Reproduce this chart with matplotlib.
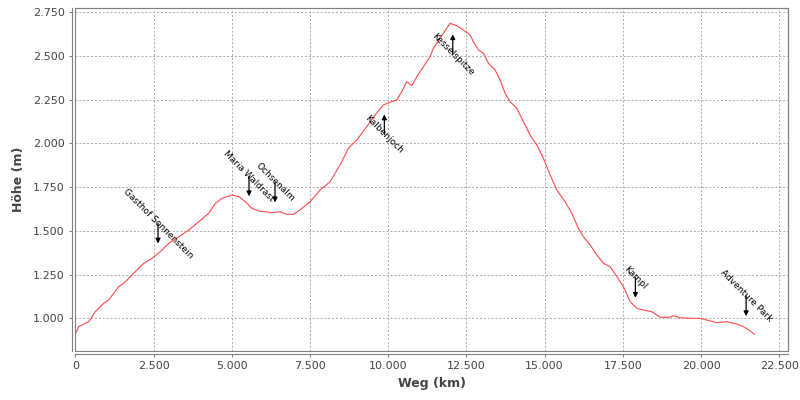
import matplotlib
matplotlib.use("Agg")
import matplotlib.pyplot as plt
from matplotlib.ticker import FuncFormatter, MultipleLocator
from matplotlib.patches import Rectangle
from matplotlib.transforms import offset_copy

# distance along route (m) and elevation (m)
dist = [0, 109, 320, 428, 640, 908, 1068, 1228, 1388, 1547, 1758, 2027, 2187, 2452, 2718,
        2986, 3306, 3625, 3945, 4265, 4476, 4690, 5010, 5224, 5435, 5649, 5863, 6074, 6289,
        6544, 6759, 6969, 7184, 7503, 7823, 8143, 8462, 8728, 8996, 9316, 9582, 9847, 10061,
        10275, 10435, 10595, 10755, 10915, 11126, 11340, 11445, 11659, 11873, 11979, 12193,
        12404, 12618, 12724, 12884, 13044, 13204, 13418, 13578, 13738, 13897, 14112, 14323,
        14537, 14751, 14962, 15176, 15390, 15655, 15870, 16081, 16241, 16455, 16670, 16880,
        17095, 17309, 17520, 17734, 17948, 18159, 18428, 18693, 19013, 19119, 19332, 19758,
        19971, 20186, 20505, 20825, 21145, 21356, 21570, 21698]
elev = [910, 952, 971, 981, 1038, 1086, 1105, 1143, 1181, 1200, 1238, 1286, 1314, 1343, 1381,
        1428, 1466, 1504, 1552, 1600, 1657, 1686, 1704, 1695, 1666, 1628, 1613, 1609, 1603,
        1609, 1594, 1594, 1619, 1666, 1733, 1780, 1876, 1971, 2019, 2095, 2161, 2219, 2234,
        2247, 2295, 2352, 2329, 2380, 2437, 2495, 2542, 2600, 2657, 2685, 2672,
        2647, 2618, 2580, 2533, 2514, 2457, 2419, 2361, 2285, 2237, 2200, 2123,
        2047, 1990, 1914, 1819, 1733, 1666, 1600, 1514, 1466, 1419, 1362, 1314,
        1295, 1238, 1181, 1095, 1057, 1047, 1038, 1006, 1006, 1015, 1003, 1000,
        1000, 990, 975, 981, 967, 952, 929, 909]

# points of interest
poi_names = ["Gasthof Sonnenstein", "Maria Waldrast", "Ochsenalm", "Kalbenjoch",
             "Kesselspitze", "Kampl", "Adventure Park"]
poi_dist = [2644, 5553, 6384, 9879, 12065, 17903, 21442]
poi_elev = [1370, 1640, 1605, 2222, 2680, 1060, 955]
poi_side = [1, 1, 1, -1, -1, 1, 1]   # 1: label above (arrow down), -1: below (arrow up)

x_label = "Weg (km)"
y_label = "Höhe (m)"

fig = plt.figure(figsize=(8, 4), dpi=100)
fig.patch.set_facecolor("white")
ax = fig.add_axes([75.3 / 800, 1 - 350.7 / 400, (788.3 - 75.3) / 800, (350.7 - 8.3) / 400])

ax.plot(dist, elev, color="#ff4a4a", lw=0.8, zorder=3)

ax.set_xlim(0, 22790)
ax.set_ylim(815, 2771)
ax.xaxis.set_major_locator(MultipleLocator(2500))
ax.yaxis.set_major_locator(MultipleLocator(250))
fmt = FuncFormatter(lambda v, p: f"{v:,.0f}".replace(",", "."))
ax.xaxis.set_major_formatter(fmt)
ax.yaxis.set_major_formatter(fmt)

ax.grid(True, color="#a8a8a8", lw=0.7, ls=(0, (2, 2)))
ax.set_axisbelow(True)

gray = "#808080"
for s in ["top", "right"]:
    ax.spines[s].set_color(gray)
    ax.spines[s].set_linewidth(0.8)
for s in ["left", "bottom"]:
    ax.spines[s].set_color(gray)
    ax.spines[s].set_linewidth(0.8)
    ax.spines[s].set_position(("outward", 2.6))
ax.add_patch(Rectangle((0, 0), 1, 1, transform=ax.transAxes, fill=False,
                       edgecolor=gray, lw=0.8, zorder=4, clip_on=False))

ax.tick_params(axis="both", colors=gray, labelcolor="#444444", labelsize=8,
               length=2, width=0.8, pad=3)

ax.set_xlabel(x_label, fontsize=9, fontweight="bold", color="#444444", labelpad=4)
ax.set_ylabel(y_label, fontsize=9, fontweight="bold", color="#444444", labelpad=6)

for name, px, py, side in zip(poi_names, poi_dist, poi_elev, poi_side):
    tip = offset_copy(ax.transData, fig=fig, x=0, y=10 * side, units="dots")
    base = offset_copy(ax.transData, fig=fig, x=0, y=30 * side, units="dots")
    ax.annotate("", xy=(px, py), xycoords=tip, xytext=(px, py), textcoords=base,
                arrowprops=dict(arrowstyle="-|>", color="black", lw=0.9,
                                mutation_scale=7, shrinkA=0, shrinkB=0), zorder=5)
    ax.text(px, py, name, transform=base, rotation=-45, rotation_mode="anchor",
            ha="center", va="center", fontsize=6.5, color="black", zorder=6)

fig.savefig("out.png", dpi=100)
